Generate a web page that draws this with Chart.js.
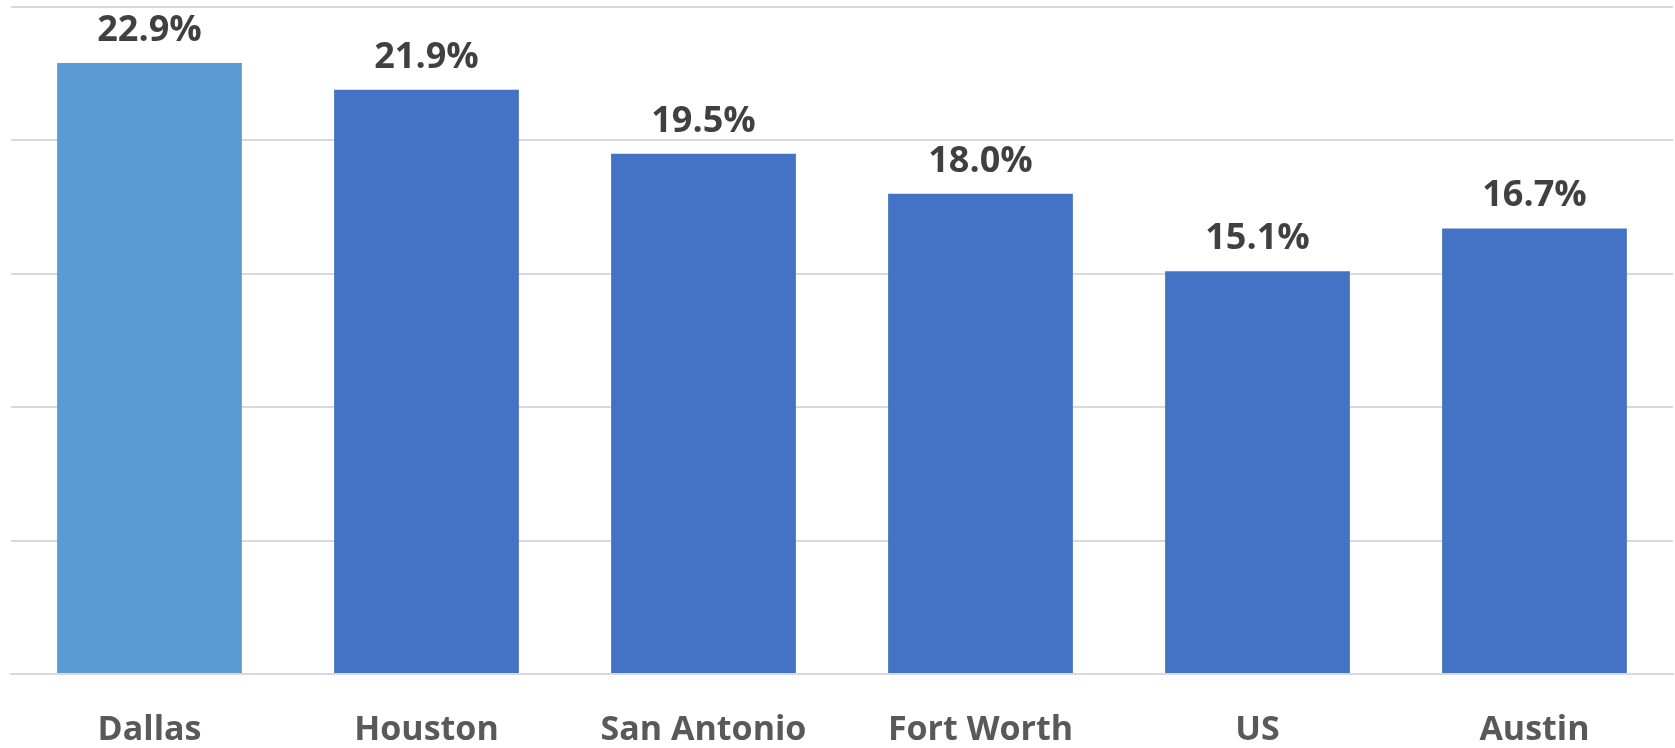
<!DOCTYPE html>
<html>
<head>
<meta charset="utf-8">
<script src="https://cdn.jsdelivr.net/npm/chart.js@4.4.1/dist/chart.umd.min.js"></script>
<style>
html,body{margin:0;padding:0;background:#fff;}
#wrap{width:1675px;height:748px;}
</style>
</head>
<body>
<div id="wrap"><canvas id="c" width="1675" height="748"></canvas></div>
<script>
const categories = ["Dallas", "Houston", "San Antonio", "Fort Worth", "US", "Austin"];
const values = [22.9, 21.9, 19.5, 18.0, 15.1, 16.7];
const barColors = ["#5B9BD5", "#4472C4", "#4472C4", "#4472C4", "#4472C4", "#4472C4"];
const yMin = 0, yMax = 25, yStep = 5;

const FONT = "'Open Sans', 'Liberation Sans', sans-serif";

const valueLabels = {
  id: 'valueLabels',
  afterDatasetsDraw(chart) {
    const ctx = chart.ctx;
    const meta = chart.getDatasetMeta(0);
    ctx.save();
    ctx.font = "bold 36px " + FONT;
    ctx.fillStyle = "#404040";
    ctx.textAlign = "center";
    ctx.textBaseline = "alphabetic";
    meta.data.forEach((bar, i) => {
      ctx.fillText(values[i].toFixed(1) + "%", bar.x, bar.y - 22);
    });
    ctx.restore();
  }
};

new Chart(document.getElementById('c'), {
  type: 'bar',
  data: {
    labels: categories,
    datasets: [{
      data: values,
      backgroundColor: barColors,
      borderWidth: 0,
      categoryPercentage: 1.0,
      barPercentage: 0.667
    }]
  },
  options: {
    responsive: false,
    animation: false,
    devicePixelRatio: 1,
    layout: { padding: { left: 11, right: 2, top: 7, bottom: 0 } },
    plugins: { legend: { display: false }, tooltip: { enabled: false } },
    scales: {
      x: {
        grid: { display: false, drawTicks: false },
        border: { display: true, color: "#d9d9d9", width: 2 },
        ticks: { color: "#595959", font: { family: FONT, size: 34, weight: 'bold' }, padding: 36, maxRotation: 0, autoSkip: false },
        afterFit(scale) { scale.height = 74; }
      },
      y: {
        min: yMin, max: yMax,
        ticks: { display: false, stepSize: yStep },
        grid: { color: "#d9d9d9", lineWidth: 2, drawTicks: false },
        border: { display: false },
        afterFit(scale) { scale.width = 0; }
      }
    }
  },
  plugins: [valueLabels]
});
</script>
</body>
</html>
